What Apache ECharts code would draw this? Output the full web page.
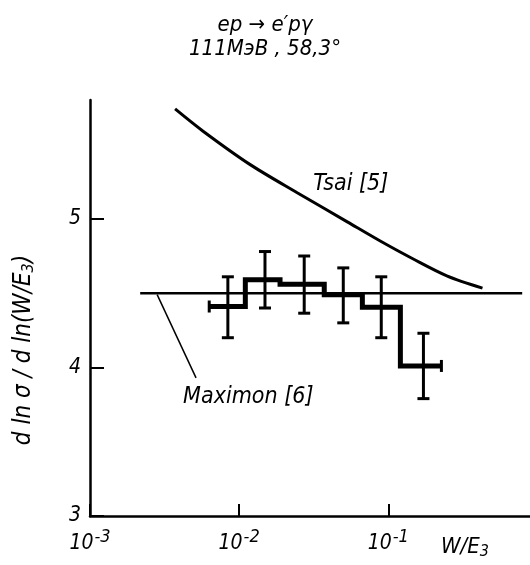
<!DOCTYPE html>
<html>
<head>
<meta charset="utf-8">
<script src="https://cdn.jsdelivr.net/npm/echarts@6/dist/echarts.min.js"></script>
<style>
  html, body { margin: 0; padding: 0; background: #fff; }
  #chart { width: 530px; height: 565px; }
</style>
</head>
<body>
<div id="chart"></div>
<script>
// values (x in units of W/E3, y in d ln sigma / d ln(W/E3))
var binEdges = [0.0063, 0.011, 0.0188, 0.0372, 0.067, 0.1205, 0.227];
var binValues = [4.41, 4.59, 4.56, 4.49, 4.405, 4.01];
var pointX = [0.0084, 0.0149, 0.0273, 0.0499, 0.0897, 0.172];
var errLow = [4.20, 4.40, 4.365, 4.30, 4.20, 3.79];
var errHigh = [4.61, 4.78, 4.75, 4.67, 4.61, 4.23];

var tsaiX = [0.00372, 0.00573, 0.01186, 0.0245, 0.0531, 0.0883, 0.147, 0.249, 0.428];
var tsaiY = [5.74, 5.59, 5.365, 5.176, 4.98, 4.851, 4.73, 4.615, 4.534];

var maximonX = [0.00217, 0.79];
var maximonY = [4.5, 4.5];
var pointerX = [0.00282, 0.00514];
var pointerY = [4.49, 3.93];

var xTicks = [0.001, 0.01, 0.1];
var yTicks = [3, 4, 5];

var FONT = "'DejaVu Sans Condensed', 'Liberation Sans Narrow', 'DejaVu Sans', sans-serif";
var INK = '#000';

function lg(v) { return Math.log10(v); }

function pairs(xs, ys) {
    var out = [];
    for (var i = 0; i < xs.length; i++) out.push([lg(xs[i]), ys[i]]);
    return out;
}

// step outline of the histogram
var stepData = [];
for (var i = 0; i < binValues.length; i++) {
    stepData.push([lg(binEdges[i]), binValues[i]]);
    stepData.push([lg(binEdges[i + 1]), binValues[i]]);
}

var errData = [];
for (var j = 0; j < pointX.length; j++) {
    errData.push([lg(pointX[j]), errLow[j], errHigh[j]]);
}

var endCaps = [
    [lg(binEdges[0]), binValues[0]],
    [lg(binEdges[binEdges.length - 1]), binValues[binValues.length - 1]]
];

var labelData = [
    [lg(0.0314), 5.236, 'Tsai [5]'],
    [lg(0.00421), 3.804, 'Maximon [6]']
];

var chart = echarts.init(document.getElementById('chart'));

var option = {
    animation: false,
    backgroundColor: '#fff',
    title: {
        text: 'ep \u2192 e\u2032p\u03b3',
        subtext: '111\u041c\u044d\u0412 , 58,3\u00b0',
        left: 'center',
        top: 9,
        itemGap: 2,
        textStyle: { fontFamily: FONT, fontStyle: 'italic', fontWeight: 'normal', fontSize: 22, color: INK },
        subtextStyle: { fontFamily: FONT, fontStyle: 'italic', fontSize: 22, color: INK }
    },
    grid: { left: 90, right: 0, top: 100, bottom: 49 },
    xAxis: {
        type: 'value',
        min: -3,
        max: -0.05,
        interval: 1,
        splitLine: { show: false },
        axisLine: { lineStyle: { color: INK, width: 2.5 } },
        axisTick: { inside: true, length: 12, customValues: [lg(xTicks[0]), lg(xTicks[1]), lg(xTicks[2])], lineStyle: { color: INK, width: 2 } },
        axisLabel: {
            customValues: [lg(xTicks[0]), lg(xTicks[1]), lg(xTicks[2])],
            margin: 12,
            formatter: function(v) { return '{b|10}{e|' + Math.round(v) + '}'; },
            rich: {
                b: { fontFamily: FONT, fontStyle: 'italic', fontSize: 21, color: INK },
                e: { fontFamily: FONT, fontStyle: 'italic', fontSize: 18, color: INK, padding: [0, 0, 14, 1] }
            }
        }
    },
    yAxis: {
        type: 'value',
        min: 3,
        max: 5.8,
        interval: 1,
        splitLine: { show: false },
        axisLine: { lineStyle: { color: INK, width: 2.5 } },
        axisTick: { inside: true, length: 14, customValues: yTicks, lineStyle: { color: INK, width: 2 } },
        axisLabel: {
            customValues: yTicks,
            margin: 9,
            fontFamily: FONT,
            fontStyle: 'italic',
            fontSize: 21,
            color: INK
        }
    },
    graphic: [
        {
            type: 'text',
            x: 24,
            y: 350,
            rotation: Math.PI / 2,
            style: {
                text: '{t|d ln \u03c3 / d ln(W/E}{s|3}{t|)}',
                align: 'center',
                verticalAlign: 'middle',
                rich: {
                    t: { fontFamily: FONT, fontStyle: 'italic', fontSize: 24, fill: INK },
                    s: { fontFamily: FONT, fontStyle: 'italic', fontSize: 16, fill: INK, padding: [9, 0, 0, 0] }
                }
            }
        },
        {
            type: 'text',
            x: 465,
            y: 547,
            style: {
                text: '{t|W/E}{s|3}',
                align: 'center',
                verticalAlign: 'middle',
                rich: {
                    t: { fontFamily: FONT, fontStyle: 'italic', fontSize: 22, fill: INK },
                    s: { fontFamily: FONT, fontStyle: 'italic', fontSize: 16, fill: INK, padding: [9, 0, 0, 0] }
                }
            }
        }
    ],
    series: [
        {
            name: 'Tsai',
            type: 'line',
            data: pairs(tsaiX, tsaiY),
            smooth: 0.3,
            showSymbol: false,
            lineStyle: { color: INK, width: 3 }
        },
        {
            name: 'Maximon',
            type: 'line',
            data: pairs(maximonX, maximonY),
            showSymbol: false,
            lineStyle: { color: INK, width: 2.5 }
        },
        {
            name: 'pointer',
            type: 'line',
            data: pairs(pointerX, pointerY),
            showSymbol: false,
            lineStyle: { color: INK, width: 1.5 }
        },
        {
            name: 'histogram',
            type: 'line',
            data: stepData,
            showSymbol: false,
            lineStyle: { color: INK, width: 5, join: 'miter' }
        },
        {
            name: 'ends',
            type: 'custom',
            data: endCaps,
            encode: { x: 0, y: 1 },
            renderItem: function(params, api) {
                var p = api.coord([api.value(0), api.value(1)]);
                return {
                    type: 'line',
                    shape: { x1: p[0], y1: p[1] - 6, x2: p[0], y2: p[1] + 6 },
                    style: { stroke: INK, lineWidth: 3 }
                };
            }
        },
        {
            name: 'errors',
            type: 'custom',
            data: errData,
            encode: { x: 0, y: [1, 2] },
            renderItem: function(params, api) {
                var x = api.value(0);
                var bot = api.coord([x, api.value(1)]);
                var top = api.coord([x, api.value(2)]);
                var c = 6;
                var st = { stroke: INK, lineWidth: 3 };
                return {
                    type: 'group',
                    children: [
                        { type: 'line', shape: { x1: top[0], y1: top[1], x2: bot[0], y2: bot[1] }, style: st },
                        { type: 'line', shape: { x1: top[0] - c, y1: top[1], x2: top[0] + c, y2: top[1] }, style: st },
                        { type: 'line', shape: { x1: bot[0] - c, y1: bot[1], x2: bot[0] + c, y2: bot[1] }, style: st }
                    ]
                };
            }
        },
        {
            name: 'labels',
            type: 'scatter',
            data: labelData,
            symbolSize: 0,
            itemStyle: { opacity: 1 },
            label: {
                show: true,
                position: 'right',
                distance: 0,
                formatter: function(p) { return p.value[2]; },
                fontFamily: FONT,
                fontStyle: 'italic',
                fontSize: 23,
                color: INK,
                opacity: 1
            }
        }
    ]
};

chart.setOption(option);
</script>
</body>
</html>
